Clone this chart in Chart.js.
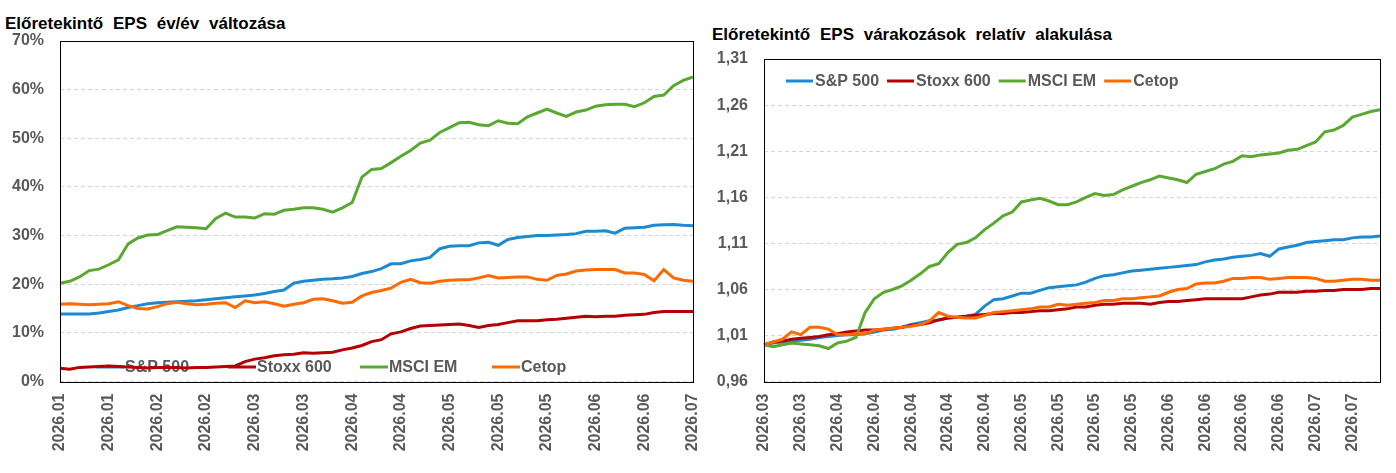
<!DOCTYPE html>
<html>
<head>
<meta charset="utf-8">
<script src="https://cdn.jsdelivr.net/npm/chart.js@4.4.1/dist/chart.umd.min.js"></script>
<style>
  html, body { margin: 0; padding: 0; background: #fff; }
  body { width: 1396px; height: 473px; position: relative; overflow: hidden; font-family: "Liberation Sans", Arial, sans-serif; }
  .title { position: absolute; font-weight: bold; font-size: 17px; color: #000; white-space: nowrap; word-spacing: 5px; }
  .box { position: absolute; top: 0; height: 473px; }
</style>
</head>
<body>
<div class="title" style="left:5px; top:14px;">Előretekintő EPS év/év változása</div>
<div class="title" style="left:712px; top:25px;">Előretekintő EPS várakozások relatív alakulása</div>
<div class="box" style="left:0; width:700px;"><canvas id="leftChart"></canvas></div>
<div class="box" style="left:700px; width:696px;"><canvas id="rightChart"></canvas></div>
<script>
const seriesNames = ['S&P 500', 'Stoxx 600', 'MSCI EM', 'Cetop'];
const seriesColors = ['#1b8ad3', '#b40000', '#5aa832', '#ff6a00'];

// bal grafikon: előretekintő EPS év/év változás (%)
const leftTicks = ['2026.01', '2026.01', '2026.02', '2026.02', '2026.03', '2026.03', '2026.04',
    '2026.04', '2026.05', '2026.05', '2026.05', '2026.06', '2026.06', '2026.07'];
const leftSP = [13.9, 13.9, 13.9, 13.9, 14.1, 14.4, 14.7, 15.2, 15.6, 16.0,
    16.2, 16.3, 16.4, 16.5, 16.6, 16.8, 17.0, 17.2, 17.4, 17.6,
    17.8, 18.1, 18.5, 18.8, 20.2, 20.6, 20.8, 21.0, 21.1, 21.3,
    21.6, 22.2, 22.6, 23.2, 24.2, 24.2, 24.8, 25.1, 25.5, 27.3,
    27.8, 27.9, 27.9, 28.5, 28.6, 28.0, 29.2, 29.6, 29.8, 30.0,
    30.0, 30.1, 30.2, 30.4, 30.9, 30.9, 31.0, 30.5, 31.5, 31.6,
    31.7, 32.1, 32.2, 32.3, 32.1, 32.0];
const leftStoxx = [2.7, 2.5, 2.9, 3.0, 3.1, 3.2, 3.1, 3.0, 2.9, 2.8,
    2.9, 2.9, 2.9, 2.8, 2.9, 2.9, 3.0, 3.1, 3.2, 4.1,
    4.6, 4.9, 5.3, 5.5, 5.6, 5.9, 5.8, 5.9, 6.0, 6.5,
    6.9, 7.4, 8.2, 8.6, 9.8, 10.2, 10.9, 11.4, 11.5, 11.6,
    11.7, 11.8, 11.5, 11.1, 11.5, 11.7, 12.1, 12.5, 12.5, 12.5,
    12.7, 12.8, 13.0, 13.2, 13.4, 13.3, 13.4, 13.4, 13.6, 13.7,
    13.8, 14.2, 14.4, 14.4, 14.4, 14.4];
const leftMSCI = [20.2, 20.6, 21.5, 22.8, 23.1, 24.0, 25.0, 28.3, 29.5, 30.1,
    30.2, 31.0, 31.8, 31.7, 31.6, 31.4, 33.5, 34.6, 33.8, 33.8,
    33.6, 34.5, 34.4, 35.2, 35.4, 35.7, 35.7, 35.4, 34.8, 35.7,
    36.8, 42.0, 43.6, 43.8, 45.0, 46.3, 47.5, 49.0, 49.6, 51.2,
    52.2, 53.2, 53.3, 52.8, 52.6, 53.6, 53.1, 53.0, 54.4, 55.2,
    56.0, 55.2, 54.5, 55.4, 55.8, 56.6, 56.9, 57.0, 57.0, 56.5,
    57.3, 58.6, 58.9, 60.8, 61.9, 62.6];
const leftCetop = [15.9, 16.0, 15.9, 15.8, 15.9, 16.0, 16.4, 15.6, 15.0, 14.9,
    15.4, 16.0, 16.3, 16.0, 15.8, 15.9, 16.1, 16.2, 15.2, 16.6,
    16.2, 16.4, 16.0, 15.5, 15.9, 16.2, 16.9, 17.0, 16.6, 16.1,
    16.3, 17.6, 18.3, 18.7, 19.2, 20.4, 21.0, 20.3, 20.2, 20.6,
    20.8, 20.9, 20.9, 21.3, 21.8, 21.3, 21.4, 21.5, 21.5, 21.0,
    20.8, 21.8, 22.1, 22.7, 22.9, 23.0, 23.0, 23.0, 22.3, 22.3,
    22.0, 20.7, 23.0, 21.3, 20.8, 20.6];

// jobb grafikon: várakozások relatív alakulása
const rightTicks = ['2026.03', '2026.03', '2026.04', '2026.04', '2026.04', '2026.04', '2026.04',
    '2026.05', '2026.05', '2026.05', '2026.05', '2026.06', '2026.06', '2026.06', '2026.06',
    '2026.07', '2026.07'];
const rightSP = [1.000, 1.002, 1.003, 1.004, 1.005, 1.006, 1.008, 1.009, 1.010, 1.011,
    1.011, 1.012, 1.014, 1.016, 1.017, 1.019, 1.022, 1.024, 1.026, 1.027,
    1.029, 1.030, 1.031, 1.033, 1.042, 1.049, 1.050, 1.053, 1.056, 1.056,
    1.059, 1.062, 1.063, 1.064, 1.065, 1.068, 1.072, 1.075, 1.076, 1.078,
    1.080, 1.081, 1.082, 1.083, 1.084, 1.085, 1.086, 1.087, 1.090, 1.092,
    1.093, 1.095, 1.096, 1.097, 1.099, 1.096, 1.104, 1.106, 1.108, 1.111,
    1.112, 1.113, 1.114, 1.114, 1.116, 1.117, 1.117, 1.118];
const rightStoxx = [1.000, 1.003, 1.004, 1.006, 1.007, 1.008, 1.009, 1.011, 1.012, 1.014,
    1.015, 1.016, 1.016, 1.017, 1.018, 1.019, 1.021, 1.022, 1.024, 1.027,
    1.029, 1.030, 1.031, 1.032, 1.033, 1.034, 1.034, 1.035, 1.035, 1.036,
    1.037, 1.037, 1.038, 1.039, 1.041, 1.041, 1.043, 1.044, 1.044, 1.045,
    1.045, 1.045, 1.044, 1.046, 1.047, 1.047, 1.048, 1.049, 1.050, 1.050,
    1.050, 1.050, 1.050, 1.052, 1.054, 1.055, 1.057, 1.057, 1.057, 1.058,
    1.058, 1.059, 1.059, 1.060, 1.060, 1.060, 1.061, 1.061];
const rightMSCI = [1.000, 0.998, 1.000, 1.002, 1.001, 1.000, 0.999, 0.996, 1.002, 1.004,
    1.008, 1.035, 1.050, 1.057, 1.060, 1.064, 1.070, 1.077, 1.085, 1.088,
    1.100, 1.109, 1.111, 1.116, 1.125, 1.132, 1.140, 1.144, 1.155, 1.157,
    1.159, 1.156, 1.152, 1.152, 1.155, 1.160, 1.164, 1.162, 1.163, 1.168,
    1.172, 1.176, 1.179, 1.183, 1.181, 1.179, 1.176, 1.185, 1.188, 1.191,
    1.196, 1.199, 1.205, 1.204, 1.206, 1.207, 1.208, 1.211, 1.212, 1.216,
    1.220, 1.231, 1.233, 1.238, 1.247, 1.250, 1.253, 1.255];
const rightCetop = [1.000, 1.003, 1.006, 1.014, 1.011, 1.019, 1.019, 1.017, 1.011, 1.011,
    1.012, 1.012, 1.016, 1.017, 1.018, 1.019, 1.020, 1.022, 1.026, 1.035,
    1.031, 1.030, 1.029, 1.029, 1.032, 1.035, 1.036, 1.037, 1.038, 1.039,
    1.041, 1.041, 1.044, 1.043, 1.044, 1.045, 1.046, 1.048, 1.048, 1.050,
    1.050, 1.051, 1.052, 1.053, 1.057, 1.060, 1.061, 1.066, 1.067, 1.067,
    1.069, 1.072, 1.072, 1.073, 1.073, 1.071, 1.072, 1.073, 1.073, 1.073,
    1.072, 1.069, 1.069, 1.070, 1.071, 1.071, 1.070, 1.070];

const FONT = '"Liberation Sans", Arial, sans-serif';
const tickFont = { family: FONT, size: 16, weight: 'bold' };
const GRAY = '#595959';

// jelmagyarázat a rajzterületen belül (a vonalak alá) + fekete keret
const innerLegend = {
    id: 'innerLegend',
    beforeDatasetsDraw(chart, args, opts) {
        const ctx = chart.ctx;
        ctx.save();
        ctx.font = 'bold 16px ' + FONT;
        ctx.textBaseline = 'middle';
        let x = opts.x;
        chart.data.datasets.forEach((ds, i) => {
            if (opts.pitch) x = opts.x + i * opts.pitch;
            ctx.strokeStyle = ds.borderColor;
            ctx.lineWidth = 3;
            ctx.beginPath();
            ctx.moveTo(x, opts.y);
            ctx.lineTo(x + opts.line, opts.y);
            ctx.stroke();
            ctx.fillStyle = GRAY;
            ctx.fillText(ds.label, x + opts.line + opts.gap, opts.y + 1);
            x += opts.line + opts.gap + ctx.measureText(ds.label).width + 8;
        });
        ctx.restore();
    },
    afterDraw(chart) {
        const a = chart.chartArea;
        const ctx = chart.ctx;
        ctx.save();
        ctx.strokeStyle = '#000';
        ctx.lineWidth = 1;
        ctx.strokeRect(Math.round(a.left) + 0.5, Math.round(a.top) + 0.5,
            Math.round(a.right - a.left), Math.round(a.bottom - a.top));
        ctx.restore();
    }
};

function makeChart(id, values, ticks, every, yOpts, box, legendOpts) {
    const datasets = values.map((vals, i) => ({
        label: seriesNames[i],
        data: vals,
        borderColor: seriesColors[i],
        backgroundColor: seriesColors[i],
        borderWidth: 3,
        pointRadius: 0,
        tension: 0,
        order: 4 - i
    }));
    return new Chart(document.getElementById(id), {
        type: 'line',
        data: { labels: values[0].map((_, i) => i), datasets: datasets },
        options: {
            responsive: true,
            maintainAspectRatio: false,
            animation: false,
            layout: { padding: { left: 0, top: box.top, right: box.right, bottom: 0 } },
            plugins: {
                legend: { display: false },
                tooltip: { enabled: false },
                innerLegend: legendOpts
            },
            scales: {
                x: {
                    ticks: {
                        autoSkip: false, minRotation: 90, maxRotation: 90, padding: 12,
                        color: GRAY, font: tickFont,
                        callback: (v, i) => (i % every === 0 ? ticks[i / every] : null)
                    },
                    grid: { display: false, drawTicks: false },
                    border: { display: false },
                    afterFit(scale) {
                        scale.height = 473 - box.bottom;
                        scale.paddingLeft = 0;
                        scale.paddingRight = 0;
                    }
                },
                y: Object.assign({
                    grid: { color: '#d6d6d6', drawTicks: false },
                    border: { display: false, dash: [4, 3] },
                    afterFit(scale) { scale.width = box.left; }
                }, yOpts)
            }
        },
        plugins: [innerLegend]
    });
}

makeChart('leftChart', [leftSP, leftStoxx, leftMSCI, leftCetop], leftTicks, 5, {
    min: 0, max: 70,
    ticks: { stepSize: 10, padding: 16, color: GRAY, font: tickFont, callback: v => v + '%' }
}, { left: 60, top: 41, right: 7, bottom: 381.5 },
{ x: 96, y: 367, line: 28, gap: 1, pitch: 132 });

makeChart('rightChart', [rightSP, rightStoxx, rightMSCI, rightCetop], rightTicks, 4, {
    min: 0.96, max: 1.31,
    ticks: { stepSize: 0.05, padding: 16, color: GRAY, font: tickFont,
        callback: v => v.toFixed(2).replace('.', ',') }
}, { left: 64, top: 59, right: 16, bottom: 381.7 },
{ x: 86, y: 81, line: 27, gap: 2 });
</script>
</body>
</html>
